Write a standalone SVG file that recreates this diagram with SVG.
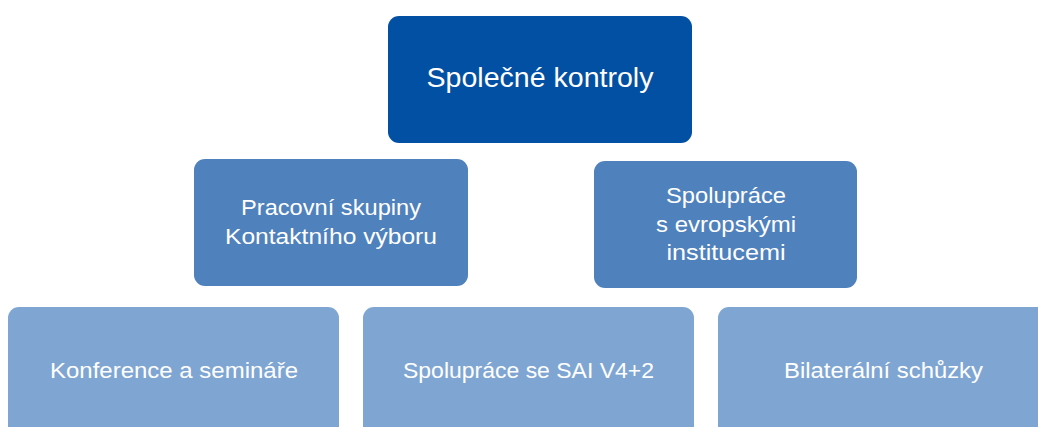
<svg xmlns="http://www.w3.org/2000/svg" width="1038" height="427" viewBox="0 0 1038 427">
<style>
text{font-family:"Liberation Sans",Arial,sans-serif;font-size:22px;fill:#ffffff;text-anchor:middle}
text.big{font-size:27px}
.l1{fill:#0250A3}
.l2{fill:#4F81BD}
.l3{fill:#7FA6D3}
</style>
<rect width="1038" height="427" fill="#ffffff"/>
<g id="connectors"></g>
<g id="n-spolecne">
<rect class="l1" x="388" y="16" width="304" height="127" rx="11"/>
<text class="big" x="540" y="87" textLength="227" lengthAdjust="spacingAndGlyphs">Společné kontroly</text>
</g>
<g id="n-pracovni">
<rect class="l2" x="194" y="159" width="274" height="127" rx="11"/>
<text x="331" y="215" textLength="180" lengthAdjust="spacingAndGlyphs">Pracovní skupiny</text>
<text x="331" y="244" textLength="212" lengthAdjust="spacingAndGlyphs">Kontaktního výboru</text>
</g>
<g id="n-evropske">
<rect class="l2" x="594" y="161" width="263" height="127" rx="11"/>
<text x="726" y="203" textLength="120" lengthAdjust="spacingAndGlyphs">Spolupráce</text>
<text x="726" y="232" textLength="140" lengthAdjust="spacingAndGlyphs">s evropskými</text>
<text x="726" y="260" textLength="119" lengthAdjust="spacingAndGlyphs">institucemi</text>
</g>
<g id="n-konference">
<rect class="l3" x="8" y="307" width="331" height="140" rx="11"/>
<text x="174" y="378" textLength="248" lengthAdjust="spacingAndGlyphs">Konference a semináře</text>
</g>
<g id="n-sai">
<rect class="l3" x="363" y="307" width="331" height="140" rx="11"/>
<text x="528.5" y="378" textLength="251" lengthAdjust="spacingAndGlyphs">Spolupráce se SAI V4+2</text>
</g>
<g id="n-bilateralni">
<rect class="l3" x="718" y="307" width="331" height="140" rx="11"/>
<text x="883.5" y="378" textLength="199" lengthAdjust="spacingAndGlyphs">Bilaterální schůzky</text>
</g>
</svg>
